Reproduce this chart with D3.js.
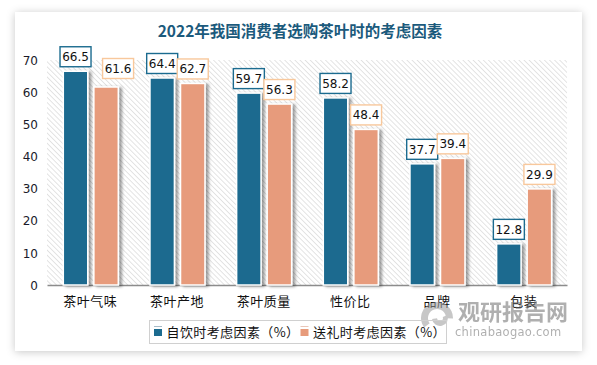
<!DOCTYPE html>
<html><head><meta charset="utf-8">
<script src="https://cdn.jsdelivr.net/npm/d3@7"></script>
<style>
html,body{margin:0;padding:0;background:#fff;}
svg{display:block;}
</style></head>
<body>
<svg id="c" width="597" height="365"></svg>
<script>
const categories = ["茶叶气味","茶叶产地","茶叶质量","性价比","品牌","包装"];
const seriesNames = ["自饮时考虑因素（%）","送礼时考虑因素（%）"];
const selfUse = [66.5,64.4,59.7,58.2,37.7,12.8];
const gift = [61.6,62.7,56.3,48.4,39.4,29.9];
const yTicks = [0,10,20,30,40,50,60,70];
const title = "2022年我国消费者选购茶叶时的考虑因素";

const colors = ["#1b6b8f","#e79b7b"];
const boxStroke = ["#1b6b8f","#f8c89c"];

const svg = d3.select("#c");
const defs = svg.append("defs");
const cardShadow = defs.append("filter").attr("id","cs").attr("x","-10%").attr("y","-10%").attr("width","120%").attr("height","120%");
cardShadow.append("feDropShadow").attr("dx",0).attr("dy",1).attr("stdDeviation",4).attr("flood-color","#000").attr("flood-opacity",0.22);
const barShadow = defs.append("filter").attr("id","bs").attr("x","-30%").attr("y","-10%").attr("width","160%").attr("height","120%");
barShadow.append("feDropShadow").attr("dx",3).attr("dy",1).attr("stdDeviation",1.6).attr("flood-color","#000").attr("flood-opacity",0.38);
const pat = defs.append("pattern").attr("id","hatch").attr("patternUnits","userSpaceOnUse")
  .attr("width",3.6).attr("height",3.6).attr("patternTransform","rotate(-45)");
pat.append("rect").attr("width",3.6).attr("height",3.6).attr("fill","#fff");
pat.append("line").attr("x1",0).attr("y1",0).attr("x2",0).attr("y2",3.6).attr("stroke","#d2d2d2").attr("stroke-width",1.2);

// card
svg.append("rect").attr("x",15).attr("y",12).attr("width",567).attr("height",339)
  .attr("fill","#fff").attr("filter","url(#cs)");

const L=47,R=567,T=60,B=285;
const x0 = d3.scaleBand().domain(categories).range([L,R]).paddingInner(0).paddingOuter(0);
const x1 = d3.scaleBand().domain([0,1]).range([16.3,71.3]).paddingInner(0.2);
const y = d3.scaleLinear().domain([0,70]).range([B,T]);

svg.append("rect").attr("x",L).attr("y",T).attr("width",R-L).attr("height",B-T).attr("fill","url(#hatch)");

// title
svg.append("text").attr("x",300).attr("y",37).attr("text-anchor","middle")
  .attr("font-family","'Noto Sans CJK SC'").attr("font-weight","bold").attr("font-size",15.5)
  .attr("fill","#1b5a7c").text(title);

// y axis
const yAxis = d3.axisLeft(y).tickValues(yTicks).tickSize(0).tickPadding(0);
const ya = svg.append("g").attr("transform","translate(38,0)").call(yAxis);
ya.select(".domain").remove();
ya.selectAll("text").attr("font-family","'DejaVu Sans'").attr("font-size",12).attr("fill","#1a1a2a").attr("dy","0.35em");

// x axis
const xAxis = d3.axisBottom(x0).tickSize(0).tickPadding(0);
const xa = svg.append("g").attr("transform",`translate(0,${B})`).call(xAxis);
xa.select(".domain").attr("stroke","#8c8c8c").attr("stroke-width",1.5);
xa.selectAll("text").attr("font-family","'Noto Sans CJK SC'").attr("font-size",13).attr("fill","#111")
  .attr("letter-spacing",0.5).attr("y",21).attr("dy",0);

const data = [selfUse, gift];
const labelShift = {"1-0": 12, "1-0y": -4};

data.forEach((vals,s)=>{
  const g = svg.append("g");
  g.selectAll("rect").data(vals).join("rect")
    .attr("x",(d,i)=>x0(categories[i])+x1(s))
    .attr("y",d=>y(d))
    .attr("width",x1.bandwidth())
    .attr("height",d=>B-y(d))
    .attr("fill",colors[s]).attr("stroke","#fff").attr("stroke-width",1.5)
    .attr("filter","url(#bs)");
});

data.forEach((vals,s)=>{
  vals.forEach((v,i)=>{
    const cx = x0(categories[i])+x1(s)+x1.bandwidth()/2 + (labelShift[s+"-"+i]||0);
    const bh=20,bw=31;
    const by = y(v)-4.5-bh + (labelShift[s+"-"+i+"y"]||0);
    svg.append("rect").attr("x",cx-bw/2).attr("y",by).attr("width",bw).attr("height",bh)
      .attr("fill","#fff").attr("stroke",boxStroke[s]).attr("stroke-width",1.4);
    svg.append("text").attr("x",cx).attr("y",by+bh/2).attr("dy","0.36em").attr("text-anchor","middle")
      .attr("font-family","'DejaVu Sans'").attr("font-size",12).attr("fill","#111").text(v.toFixed(1));
  });
});

// watermark
const wm = svg.append("g").attr("opacity",0.55);
wm.append("path").attr("d",d3.arc()({innerRadius:9,outerRadius:16,startAngle:-2.2,endAngle:1.6}))
  .attr("transform","translate(437,318)").attr("fill","#9a9a9a");
wm.append("path").attr("d",d3.arc()({innerRadius:3,outerRadius:8,startAngle:1.2,endAngle:4.6}))
  .attr("transform","translate(440,318)").attr("fill","#9a9a9a");
wm.append("text").attr("x",458).attr("y",320).attr("font-family","'Noto Sans CJK SC'").attr("font-weight","bold")
  .attr("font-size",22).attr("fill","#6e6e6e").attr("letter-spacing",0).text("观研报告网");
wm.append("text").attr("x",455).attr("y",336).attr("font-family","'DejaVu Sans'")
  .attr("font-size",11.5).attr("fill","#6e6e6e").attr("letter-spacing",0.3).text("chinabaogao.com");

// legend
const lg = svg.append("g");
lg.append("rect").attr("x",149.5).attr("y",320.5).attr("width",297).attr("height",23)
  .attr("fill","none").attr("stroke","#d0d0d0").attr("stroke-width",1);
const legX = [154, 300.5];
seriesNames.forEach((n,s)=>{
  lg.append("line").attr("x1",legX[s]).attr("x2",legX[s]+8).attr("y1",326.5).attr("y2",326.5)
    .attr("stroke",s?"#e9c6b8":"#a8bcc8").attr("stroke-width",1);
  lg.append("rect").attr("x",legX[s]).attr("y",329).attr("width",8).attr("height",7).attr("fill",colors[s]);
  lg.append("text").attr("x",legX[s]+12.5).attr("y",332.5).attr("dy","0.36em")
    .attr("font-family","'Noto Sans CJK SC'").attr("font-size",13).attr("fill","#111")
    .attr("letter-spacing",0.4).text(n);
});
</script>
</body></html>
